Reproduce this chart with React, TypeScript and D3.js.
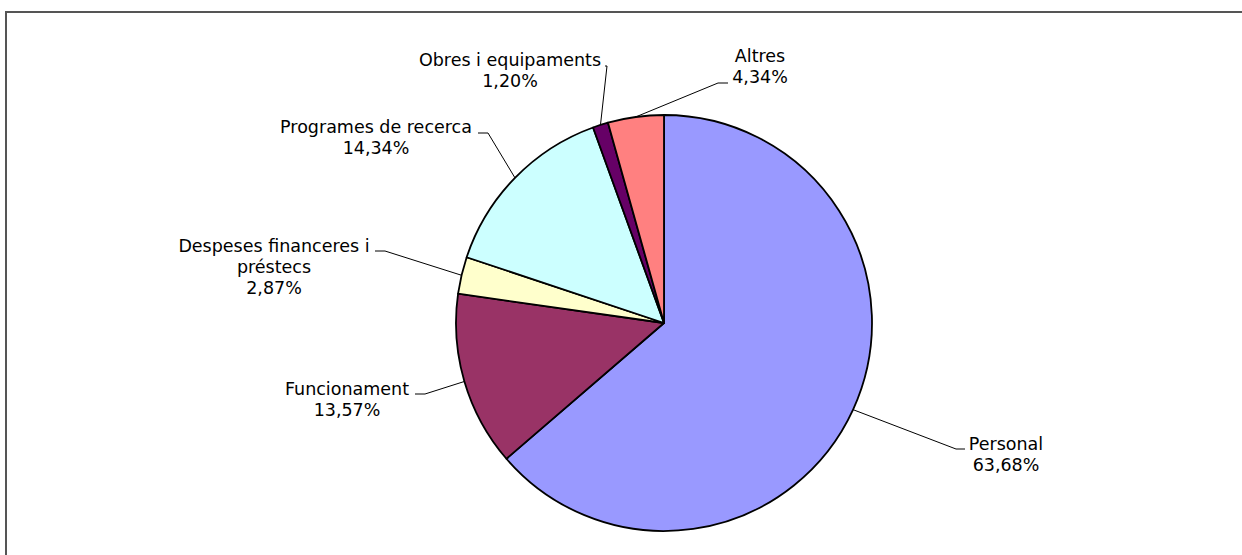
import React from "react";
import * as d3 from "d3";

const categories = [
  "Personal",
  "Funcionament",
  "Despeses financeres i préstecs",
  "Programes de recerca",
  "Obres i equipaments",
  "Altres",
];
const values = [63.68, 13.57, 2.87, 14.34, 1.2, 4.34];
const labelLines = [
  ["Personal"],
  ["Funcionament"],
  ["Despeses financeres i", "préstecs"],
  ["Programes de recerca"],
  ["Obres i equipaments"],
  ["Altres"],
];
const colors = ["#9999FF", "#993366", "#FFFFCC", "#CCFFFF", "#660066", "#FF8080"];

// label layout: elbow point, end of horizontal tick, text center x, first baseline y
const labelLayout = [
  { ex: 956, ey: 449, hx: 965, tx: 1006, ty: 450 },
  { ex: 425, ey: 394, hx: 415, tx: 347, ty: 395 },
  { ex: 385, ey: 251, hx: 375, tx: 274, ty: 252 },
  { ex: 488, ey: 133, hx: 478, tx: 376, ty: 133 },
  { ex: 607, ey: 66, hx: 605, tx: 510, ty: 66 },
  { ex: 718, ey: 83, hx: 728, tx: 760, ty: 62 },
];

const W = 1242;
const H = 555;
const cx = 664;
const cy = 323;
const R = 208;
const lineH = 21;

export default function App() {
  const pie = d3
    .pie<number>()
    .sort(null)
    .value((d) => d)
    .startAngle(0)
    .endAngle(2 * Math.PI);
  const arcs = pie(values);
  const arc = d3.arc<d3.PieArcDatum<number>>().innerRadius(0).outerRadius(R);
  const fmt = (v: number) => v.toFixed(2).replace(".", ",") + "%";

  return (
    <svg
      width={W}
      height={H}
      style={{ position: "absolute", left: 0, top: 0, background: "#fff" }}
      fontFamily="'DejaVu Sans', Verdana, sans-serif"
    >
      <rect x={0} y={0} width={W} height={H} fill="#fff" />
      <rect x={6} y={12} width={W + 20} height={H + 20} fill="none" stroke="#555" strokeWidth={2} />
      <g transform={`translate(${cx},${cy})`}>
        {arcs.map((a, i) => (
          <path key={categories[i]} d={arc(a) || ""} fill={colors[i]} stroke="#000" strokeWidth={1.8} strokeLinejoin="round" />
        ))}
      </g>
      {arcs.map((a, i) => {
        const mid = (a.startAngle + a.endAngle) / 2;
        const sx = cx + R * Math.sin(mid);
        const sy = cy - R * Math.cos(mid);
        const L = labelLayout[i];
        const lines = [...labelLines[i], fmt(values[i])];
        return (
          <g key={"l" + i}>
            <polyline
              points={`${sx},${sy} ${L.ex},${L.ey} ${L.hx},${L.ey}`}
              fill="none"
              stroke="#000"
              strokeWidth={1}
            />
            <text x={L.tx} y={L.ty} textAnchor="middle" fontSize={17.5} fill="#000">
              {lines.map((t, j) => (
                <tspan key={j} x={L.tx} dy={j === 0 ? 0 : lineH}>
                  {t}
                </tspan>
              ))}
            </text>
          </g>
        );
      })}
    </svg>
  );
}
